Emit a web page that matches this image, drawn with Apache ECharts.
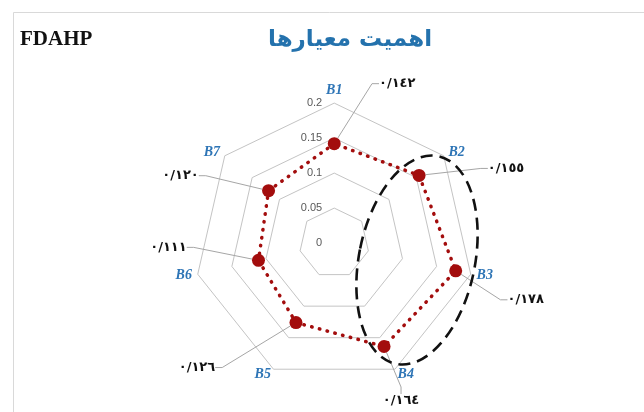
<!DOCTYPE html>
<html>
<head>
<meta charset="utf-8">
<script src="https://cdn.jsdelivr.net/npm/echarts@6/dist/echarts.min.js"></script>
<style>
  html, body { margin: 0; padding: 0; background: #fff; }
  #chart { width: 644px; height: 412px; }
</style>
</head>
<body>
<div id="chart"></div>
<script>
// criteria and their FDAHP weights
const criteria = ['B1', 'B2', 'B3', 'B4', 'B5', 'B6', 'B7']
const weights = [0.142, 0.155, 0.178, 0.164, 0.126, 0.111, 0.120]
// radial tick labels
const ticks = [0, 0.05, 0.1, 0.15, 0.2]

// label offsets from each point (dx, dy), same order as criteria
const labelOffsets = [[63, -60], [87, -7], [70, 29], [17, 54], [-99, 45], [-90, -13], [-88, -15]]

// persian style number: 0.142 -> ٠/١٤٢
const toFa = v => Number(v).toFixed(3).replace('.', '/').replace(/\d/g, d => '٠١٢٣٤٥٦٧٨٩'[d])

// echarts radar runs counter-clockwise, reference runs clockwise
const order = criteria.map((c, i) => (criteria.length - i) % criteria.length)

const textToIndex = {}
weights.forEach((w, i) => { textToIndex[toFa(w)] = i })

const chart = echarts.init(document.getElementById('chart'))

const option = {
  backgroundColor: '#fff',
  animation: false,
  title: {
    text: 'اهمیت معیارها',
    left: 263,
    top: 24,
    textStyle: {
      color: '#2472ad',
      fontFamily: 'DejaVu Sans',
      fontWeight: 'bold',
      fontSize: 23
    }
  },
  graphic: [
    {
      type: 'rect',
      left: 11,
      top: 10,
      silent: true,
      shape: { width: 700, height: 500 },
      style: { fill: 'none', stroke: '#d9d9d9', lineWidth: 1 }
    },
    {
      type: 'text',
      left: 20,
      top: 29,
      style: { text: 'FDAHP', font: 'bold 21px "Liberation Serif"', fill: '#111' }
    },
    {
      type: 'ellipse',
      x: 417,
      y: 260,
      rotation: -0.2,
      silent: true,
      z: 10,
      shape: { cx: 0, cy: 0, rx: 58, ry: 106 },
      style: { fill: 'none', stroke: '#111', lineWidth: 2.6, lineDash: [12, 7] }
    }
  ],
  radar: {
    center: ['51.9%', '59%'],
    radius: 140,
    startAngle: 90,
    shape: 'polygon',
    splitNumber: ticks.length - 1,
    nameGap: 6,
    axisName: {
      color: '#2e75b6',
      fontFamily: 'Liberation Serif',
      fontStyle: 'italic',
      fontWeight: 'bold',
      fontSize: 14
    },
    splitLine: { lineStyle: { color: '#c4c4c4', width: 1 } },
    splitArea: { show: false },
    axisLine: { show: false },
    axisTick: { show: false },
    axisLabel: { show: false },
    indicator: order.map((k, i) => ({
      name: criteria[k],
      min: ticks[0],
      max: ticks[ticks.length - 1],
      axisLabel: i === 0
        ? { show: true, margin: 12, color: '#595959', fontSize: 11, fontFamily: 'Liberation Sans',
            formatter: v => String(+v.toFixed(2)) }
        : { show: false }
    }))
  },
  series: [
    {
      type: 'radar',
      symbol: 'circle',
      symbolSize: 13,
      itemStyle: { color: '#a30d0d' },
      lineStyle: { color: '#a30d0d', width: 3.5, type: [0.5, 7.5], cap: 'round' },
      label: {
        show: true,
        position: 'inside',
        formatter: p => toFa(p.value),
        color: '#111',
        fontFamily: 'DejaVu Sans',
        fontWeight: 'bold',
        fontSize: 13
      },
      labelLine: {
        show: true,
        length2: 7,
        lineStyle: { color: '#a6a6a6', width: 1 }
      },
      labelLayout: p => {
        const i = textToIndex[p.text]
        if (i == null) return {}
        return { dx: labelOffsets[i][0], dy: labelOffsets[i][1] }
      },
      data: [{ value: order.map(k => weights[k]), name: 'FDAHP' }]
    }
  ]
}

chart.setOption(option)
</script>
</body>
</html>
